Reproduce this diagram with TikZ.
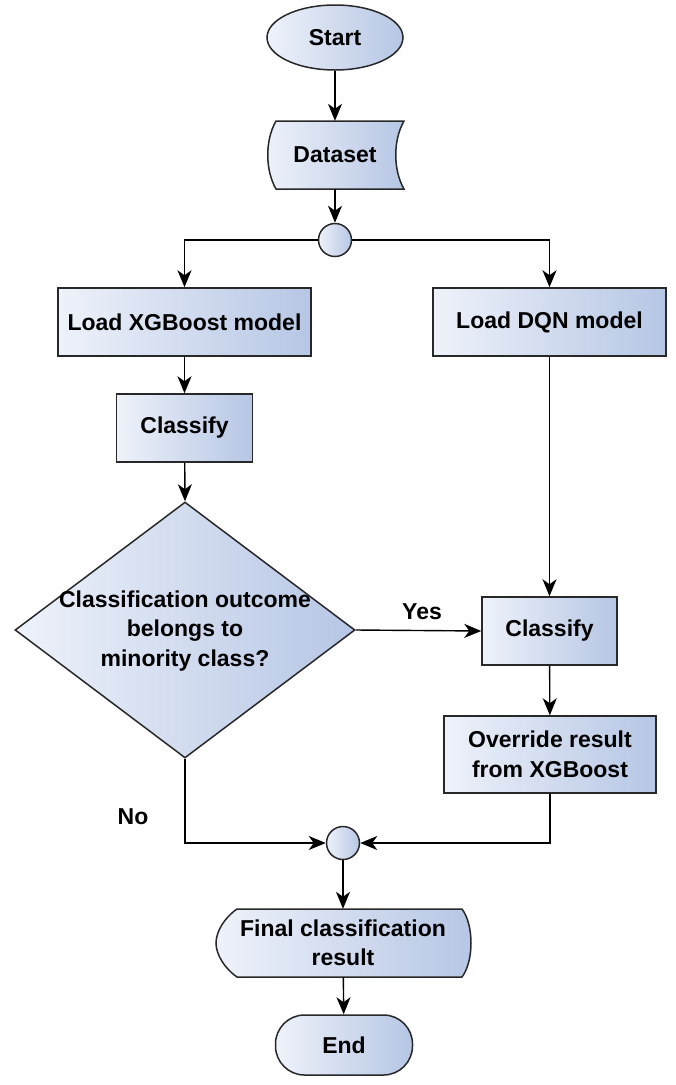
\documentclass[tikz,border=0pt]{standalone}
\usepackage{fontspec}
\setmainfont{Liberation Sans}
\usetikzlibrary{arrows.meta,shapes.geometric,calc}

\definecolor{fillL}{RGB}{238,242,250}
\definecolor{fillR}{RGB}{182,198,228}
\definecolor{edge}{RGB}{40,40,40}

\tikzset{
  txt/.style={font=\fontsize{23}{29.5}\selectfont\bfseries, align=center, text=black},
  boxfill/.style={left color=fillL, right color=fillR},
  outline/.style={draw=edge, line width=1.5pt},
  procbox/.style={txt, boxfill, outline, rectangle, inner sep=0pt},
  terminal/.style={txt, boxfill, outline, inner sep=0pt},
  junction/.style={circle, boxfill, outline, minimum size=33pt, inner sep=0pt},
  plain/.style={txt, inner sep=0pt},
  flow/.style={draw=black, line width=1.4pt, -{Stealth[length=17pt,width=14pt,inset=5pt]}},
}

\begin{document}
\begin{tikzpicture}[x=1pt, y=-1pt]
\useasboundingbox (0,0) rectangle (676,1085);

% start terminal
\node[terminal, ellipse, minimum width=136pt, minimum height=65pt] (start) at (335,37.5) {Start};

% stored data shape
\path[boxfill, outline] (276,121) -- (404,121) .. controls (393,140) and (393,170) .. (404,189)
  -- (276,189) .. controls (265,170) and (265,140) .. (276,121) -- cycle;
\node[plain, minimum width=128pt, minimum height=68pt] (data) at (335,155) {Dataset};

% fork junction
\node[junction] (split) at (335,240) {};

% two model branches
\node[procbox, minimum width=253pt, minimum height=68pt] (xgb) at (184.5,322) {Load XGBoost model};
\node[procbox, minimum width=233pt, minimum height=68pt] (dqn) at (549.5,322) {Load DQN model};
\node[procbox, minimum width=136pt, minimum height=68pt] (cls1) at (184.5,428) {Classify};

% decision
\node[diamond, boxfill, outline, minimum width=340pt, minimum height=256pt, inner sep=0pt] (dec) at (185,630) {};
\node[plain] (dectext) at (185,631) {Classification outcome\\belongs to\\minority class?};

\node[procbox, minimum width=135pt, minimum height=68pt] (cls2) at (549.5,631) {Classify};
\node[procbox, minimum width=212pt, minimum height=77pt] (ovr) at (550,754.5) {Override result\\from XGBoost};

% merge junction
\node[junction] (merge) at (343,843) {};

% display shape
\path[boxfill, outline] (237,909) -- (462,909) .. controls (474,925) and (474,961) .. (462,977)
  -- (237,977) .. controls (224,968) and (216,954) .. (216,943)
  .. controls (216,932) and (224,918) .. (237,909) -- cycle;
\node[plain, minimum width=246pt, minimum height=68pt] (final) at (343,943) {Final classification\\result};

% end terminal
\node[terminal, rounded corners=29pt, minimum width=137pt, minimum height=60pt] (end) at (344,1045) {End};

% labels
\node[plain] (yes) at (422,612) {Yes};
\node[plain] (no) at (133,817) {No};

% connectors
\draw[flow] (start) -- (data);
\draw[flow] (data) -- (split);
\draw[flow] (split.west) -| (xgb.north);
\draw[flow] (split.east) -| (dqn.north);
\draw[flow] (xgb) -- (cls1);
\draw[flow] (cls1) -- (dec.north);
\draw[flow] (dec.east) -- (cls2.west);
\draw[flow] (dqn) -- (cls2);
\draw[flow] (cls2) -- (ovr);
\draw[flow] (dec.south) |- (merge.west);
\draw[flow] (ovr.south) |- (merge.east);
\draw[flow] (merge) -- (final);
\draw[flow] (final) -- (end);
\end{tikzpicture}
\end{document}
